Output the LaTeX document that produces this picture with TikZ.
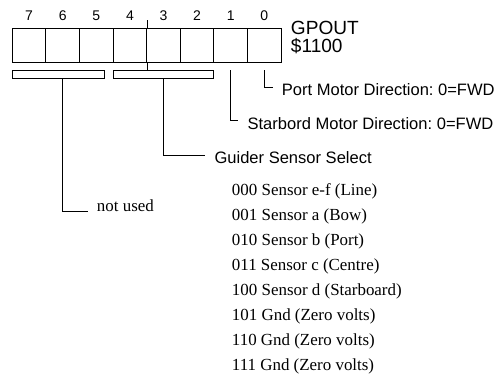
\documentclass[tikz,border=0pt]{standalone}
\usepackage{fontspec}
\setmainfont{Liberation Serif}
\setsansfont{Liberation Sans}
\usepackage{tikz}
\usetikzlibrary{positioning, calc}
\frenchspacing

\tikzset{
    bitbox/.style={draw, line width=0.8pt, minimum width=25.2pt, minimum height=25.5pt, inner sep=0pt},
    brk/.style={draw, line width=0.7pt, minimum height=5.6pt, inner sep=0pt},
    bitnum/.style={font=\sffamily\fontsize{10.5}{10.5}\selectfont, anchor=base, inner sep=0pt},
    lbl/.style={font=\sffamily\fontsize{12.4}{12.4}\selectfont, anchor=base west, inner sep=0pt},
    reg/.style={font=\sffamily\fontsize{14.3}{14.3}\selectfont, anchor=base west, inner sep=0pt},
    code/.style={font=\fontsize{12.7}{15}\selectfont, anchor=base west, inner sep=0pt},
    leader/.style={line width=0.6pt}
}

\begin{document}
\begin{tikzpicture}[x=0.75pt, y=-0.75pt]
    \useasboundingbox (0,0) rectangle (497,378);
    % register bits
    \foreach \i in {0,...,7} {
        \node[bitbox] (b\i) at ({29.1+(7-\i)*33.6}, 45.3) {};
        \node[bitnum] (n\i) at ([yshift=5.7pt]b\i.north) {\i};
    }
    \node[reg] (gp) at (290.7, 35) {GPOUT};
    \node[reg] (addr) at (290.7, 52.7) {\$1100};

    % field brackets
    \node[brk, minimum width=69pt] (k1) at (58.3, 74.25) {};
    \node[brk, minimum width=75pt] (k2) at (163.3, 74.25) {};
    \coordinate (tick) at (b4.east |- 0,20);
    \draw[leader] (k2.north -| b4.east) -- (b4.south east);
    \draw[leader] (b4.north east) -- (tick);

    % field labels
    \node[lbl] (pm) at (281.7, 96) {Port Motor Direction: 0=FWD};
    \node[lbl] (sb) at (247.3, 130) {Starbord Motor Direction: 0=FWD};
    \node[lbl] (gs) at (214.3, 163.3) {Guider Sensor Select};
    \node[code] (nu) at (96.7, 211.7) {not used};

    \draw[leader] (b0 |- k1.north) |- ([shift={(-9,-8.3)}]pm.base west);
    \draw[leader] (b1 |- k1.north) |- ([shift={(-9,-10)}]sb.base west);
    \draw[leader] (k2.south) |- ([shift={(-9.3,-7.6)}]gs.base west);
    \draw[leader] ([xshift=3pt]k1.south) |- ([shift={(-9,-0.7)}]nu.base west);

    % sensor codes
    \foreach \t [count=\k from 0] in {000 Sensor e-f (Line), 001 Sensor a (Bow),
        010 Sensor b (Port), 011 Sensor c (Centre), 100 Sensor d (Starboard),
        101 Gnd (Zero volts), 110 Gnd (Zero volts), 111 Gnd (Zero volts)} {
        \node[code] (c\k) at (231.7, {195.7+25*\k}) {\t};
    }
\end{tikzpicture}
\end{document}
